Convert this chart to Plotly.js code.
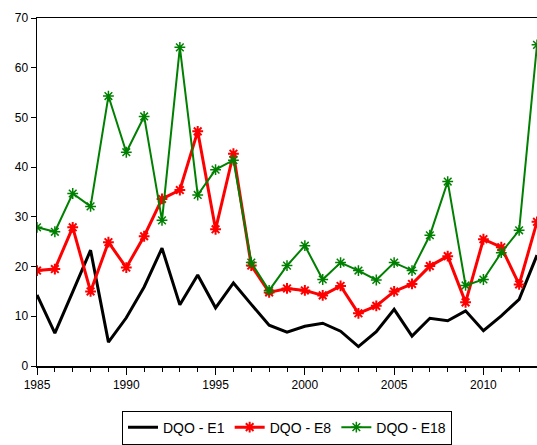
<!DOCTYPE html>
<html><head><meta charset="utf-8">
<script src="https://cdn.plot.ly/plotly-3.0.1.min.js"></script>
<style>html,body{margin:0;padding:0;background:#fff}#c{width:537px;height:445px}</style>
</head><body><div id="c"></div>
<script>
const years = [1985,1986,1987,1988,1989,1990,1991,1992,1993,1994,1995,1996,1997,1998,1999,2000,2001,2002,2003,2004,2005,2006,2007,2008,2009,2010,2011,2012,2013];
const e1  = [14.3,6.6,14.9,23.3,4.8,9.7,15.9,23.7,12.3,18.3,11.7,16.7,12.4,8.2,6.8,8.0,8.6,7.0,3.9,6.9,11.4,6.0,9.6,9.1,11.1,7.1,10.1,13.4,22.3];
const e8  = [19.2,19.5,27.9,15.0,24.9,19.8,26.1,33.6,35.4,47.2,27.5,42.7,20.2,14.8,15.6,15.2,14.2,16.1,10.6,12.1,15.0,16.5,20.1,22.1,12.8,25.5,23.9,16.4,29.0];
const e18 = [27.9,27.0,34.7,32.1,54.3,43.0,50.2,29.3,64.1,34.4,39.5,41.4,20.8,15.2,20.2,24.2,17.4,20.8,19.2,17.3,20.8,19.2,26.3,37.1,16.2,17.4,22.8,27.3,64.6];
const names = ['DQO - E1','DQO - E8','DQO - E18'];

const traces = [
  {x: years, y: e1, name: names[0], mode: 'lines', line: {color: '#000000', width: 3}},
  {x: years, y: e8, name: names[1], mode: 'lines+markers', line: {color: '#ff0000', width: 3},
   marker: {symbol: 'asterisk-open', size: 9, color: '#ff0000', line: {color: '#ff0000', width: 2}}},
  {x: years, y: e18, name: names[2], mode: 'lines+markers', line: {color: '#008000', width: 2},
   marker: {symbol: 'asterisk-open', size: 9, color: '#008000', line: {color: '#008000', width: 1.5}}}
];

const layout = {
  width: 537, height: 445,
  margin: {l: 37, r: 0, t: 18, b: 79, autoexpand: false},
  paper_bgcolor: '#fff', plot_bgcolor: '#fff',
  font: {family: 'Liberation Sans, Arial, sans-serif', size: 12, color: '#000'},
  showlegend: true,
  legend: {orientation: 'h', x: 0.5, xanchor: 'center', y: -0.128, yanchor: 'top',
    bordercolor: '#000', borderwidth: 1, font: {size: 14}, itemwidth: 30, tracegroupgap: 0},
  xaxis: {range: [1985, 2013], tickvals: [1985,1990,1995,2000,2005,2010], ticktext: ['1985','1990','1995','2000','2005','2010'],
    showgrid: false, zeroline: false, showline: true, linecolor: '#000', linewidth: 1.5, mirror: true,
    ticks: 'outside', ticklen: 7, tickcolor: '#000', tickwidth: 1,
    minor: {dtick: 1, tick0: 1985, ticks: 'outside', ticklen: 4, tickcolor: '#000', showgrid: false}},
  yaxis: {range: [0, 70], dtick: 10, showgrid: false, zeroline: false, showline: true, linecolor: '#000', linewidth: 1.5,
    ticks: 'outside', ticklen: 5, tickcolor: '#000'}
};
Plotly.newPlot('c', traces, layout, {displayModeBar: false, staticPlot: true});
</script></body></html>
